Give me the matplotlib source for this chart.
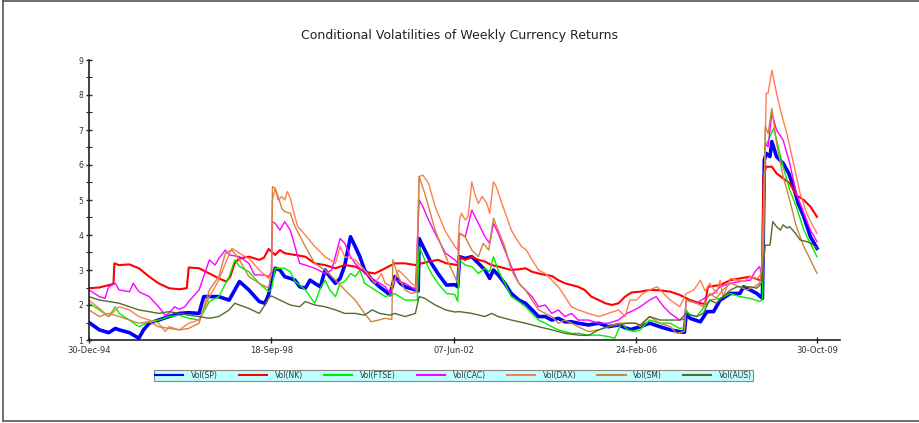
import numpy as np
import pandas as pd
import matplotlib
matplotlib.use("Agg")
import matplotlib.pyplot as plt
from matplotlib.lines import Line2D
from matplotlib.ticker import MultipleLocator

# ---- data: (week since 30-Dec-94, conditional volatility) ----
SP = [(0,1.50),(11,1.29),(21,1.21),(28,1.33),(32,1.29),(43,1.21),(53,1.05),(58,1.29),(64,1.48),(74,1.57),
      (85,1.67),(96,1.76),(106,1.78),(117,1.76),(122,2.24),(128,2.24),(138,2.24),(149,2.14),(160,2.67),(170,2.43),
      (181,2.10),(187,2.05),(191,2.30),(194,2.71),(198,3.05),(203,3.0),(208,2.81),(214,2.76),(219,2.71),(224,2.52),
      (230,2.48),(235,2.71),(240,2.62),(246,2.52),(251,3.0),(256,2.81),(262,2.62),(267,2.76),(272,3.14),(278,3.95),
      (283,3.67),(288,3.38),(293,3.0),(301,2.71),(309,2.52),(320,2.29),(325,2.81),(331,2.62),(336,2.52),(347,2.43),
      (350,2.40),(351,3.90),(357,3.57),(364,3.19),(371,2.90),(380,2.57),(389,2.58),(392,2.52),(394,3.38),(400,3.33),
      (407,3.38),(414,3.19),(421,3.0),(426,2.76),(430,3.0),(435,2.86),(442,2.62),(449,2.33),(457,2.14),(464,2.05),
      (471,1.86),(478,1.67),(485,1.67),(492,1.57),(499,1.62),(506,1.52),(513,1.52),(520,1.48),(531,1.43),(542,1.48),
      (552,1.38),(563,1.43),(570,1.35),(576,1.30),(586,1.38),(596,1.48),(607,1.38),(618,1.29),(628,1.24),(633,1.22),
      (635,1.76),(639,1.62),(650,1.52),(657,1.81),(664,1.81),(671,2.14),(682,2.33),(692,2.33),(696,2.52),(703,2.43),
      (710,2.33),(716,2.19),(718,6.14),(720,6.33),(724,6.24),(726,6.67),(731,6.24),(738,6.05),(744,5.76),(749,5.38),
      (754,4.90),(760,4.52),(767,3.95),(774,3.62)]

NK = [(0,2.48),(11,2.50),(21,2.57),(26,2.60),(27,3.19),(32,3.14),(43,3.16),(53,3.05),(64,2.81),(74,2.62),
      (85,2.48),(96,2.45),(104,2.48),(106,3.07),(117,3.05),(128,2.90),(138,2.76),(146,2.67),(150,2.80),(155,3.20),
      (160,3.33),(170,3.38),(181,3.29),(186,3.35),(191,3.60),(198,3.43),(203,3.57),(208,3.48),(219,3.43),(230,3.38),
      (240,3.19),(251,3.14),(262,3.05),(272,3.14),(283,3.10),(293,2.95),(304,2.90),(315,3.05),(325,3.19),(336,3.19),
      (347,3.14),(361,3.24),(371,3.29),(380,3.19),(392,3.14),(394,3.38),(400,3.29),(407,3.38),(414,3.29),(421,3.24),
      (428,3.14),(435,3.10),(442,3.05),(449,3.0),(457,3.02),(464,3.05),(471,2.95),(478,2.90),(485,2.86),(492,2.83),
      (499,2.71),(506,2.62),(513,2.57),(520,2.52),(527,2.43),(534,2.24),(542,2.14),(549,2.05),(556,2.0),(563,2.05),
      (570,2.24),(577,2.36),(586,2.38),(596,2.43),(607,2.42),(618,2.38),(628,2.29),(639,2.14),(650,2.05),(655,2.03),
      (658,2.52),(671,2.57),(682,2.71),(692,2.76),(703,2.81),(713,2.71),(716,2.75),(717,5.67),(720,5.95),(726,5.95),
      (731,5.76),(738,5.62),(745,5.48),(752,5.14),(760,5.0),(767,4.81),(774,4.52)]

FTSE = [(0,2.05),(11,1.86),(21,1.67),(28,1.95),(32,1.76),(43,1.57),(53,1.38),(64,1.52),(74,1.57),(85,1.67),
        (96,1.71),(106,1.62),(117,1.57),(128,2.10),(138,2.24),(149,2.81),(155,3.29),(160,3.10),(170,2.95),(181,2.62),
        (191,2.38),(194,2.45),(198,3.05),(203,3.05),(208,3.05),(214,2.95),(219,2.67),(224,2.57),(230,2.43),(235,2.24),
        (240,2.05),(246,2.48),(251,2.71),(256,2.43),(262,2.24),(267,2.62),(272,2.67),(278,2.90),(283,2.81),(288,3.0),
        (293,2.62),(304,2.43),(315,2.24),(325,2.33),(336,2.14),(349,2.14),(351,3.67),(357,3.29),(364,2.90),(371,2.62),
        (380,2.33),(389,2.30),(392,2.10),(394,3.29),(400,3.14),(407,3.10),(414,2.90),(421,3.05),(426,2.95),(430,3.38),
        (435,3.0),(442,2.62),(449,2.24),(457,2.10),(464,1.95),(471,1.76),(478,1.57),(485,1.48),(492,1.38),(499,1.29),
        (506,1.24),(513,1.19),(520,1.19),(531,1.14),(542,1.14),(552,1.10),(559,1.05),(566,1.48),(573,1.29),(580,1.24),
        (586,1.29),(596,1.57),(607,1.48),(618,1.48),(628,1.33),(633,1.35),(635,1.86),(639,1.71),(646,1.67),(660,2.14),
        (671,2.19),(682,2.33),(692,2.24),(703,2.19),(713,2.10),(716,2.15),(719,6.52),(724,6.81),(728,7.05),(731,6.71),
        (738,5.95),(745,5.29),(752,4.81),(760,4.14),(767,3.76),(774,3.38)]

CAC = [(0,2.43),(11,2.24),(17,2.19),(21,2.52),(28,2.62),(32,2.43),(43,2.38),(47,2.62),(53,2.38),(64,2.24),
       (74,1.95),(81,1.71),(85,1.76),(91,1.95),(96,1.88),(102,1.95),(106,2.10),(117,2.43),(128,3.29),(134,3.14),
       (138,3.33),(145,3.57),(149,3.43),(160,3.38),(170,3.19),(176,2.86),(181,2.86),(187,2.85),(191,2.81),(194,2.95),
       (195,4.38),(198,4.33),(203,4.14),(208,4.38),(214,4.14),(219,3.67),(224,3.19),(230,3.14),(240,3.05),(251,2.90),
       (258,3.0),(267,3.90),(272,3.76),(278,3.38),(283,3.19),(293,2.90),(304,2.71),(315,2.52),(320,2.33),(325,2.71),
       (336,2.62),(347,2.43),(351,5.0),(355,4.81),(361,4.43),(368,4.05),(379,3.48),(389,3.29),(392,3.19),(394,4.05),
       (400,3.95),(407,4.71),(414,4.33),(421,3.95),(426,3.76),(430,4.33),(435,4.05),(442,3.57),(449,3.10),(457,2.62),
       (464,2.43),(471,2.24),(478,1.95),(485,2.0),(492,1.76),(499,1.86),(506,1.67),(513,1.76),(520,1.57),(531,1.57),
       (542,1.48),(552,1.48),(563,1.57),(572,1.76),(580,1.86),(586,1.95),(596,2.14),(603,2.24),(611,1.95),(618,1.76),
       (628,1.57),(633,1.60),(635,2.14),(646,2.05),(657,2.24),(664,2.33),(671,2.52),(682,2.62),(692,2.67),(703,2.71),
       (708,2.95),(713,3.10),(716,2.80),(719,6.62),(722,6.52),(726,7.48),(731,7.0),(738,6.71),(745,6.05),(752,5.19),
       (760,4.62),(767,4.14),(774,3.81)]

DAX = [(0,2.14),(11,1.90),(21,1.67),(32,1.95),(43,1.86),(53,1.67),(64,1.57),(74,1.48),(81,1.24),(85,1.38),
       (96,1.29),(106,1.48),(117,1.57),(128,2.24),(138,2.71),(145,3.19),(152,3.62),(160,3.48),(166,3.38),(170,3.33),
       (181,3.0),(191,2.76),(194,2.85),(195,5.0),(198,5.33),(201,5.0),(205,5.10),(208,5.0),(211,5.24),(214,5.05),
       (219,4.52),(222,4.24),(230,4.0),(240,3.67),(251,3.38),(262,3.19),(267,3.67),(272,3.38),(283,3.29),(293,3.0),
       (304,2.62),(311,2.90),(315,2.62),(322,2.52),(329,3.0),(336,2.81),(343,2.62),(348,2.52),(351,5.67),(355,5.71),
       (361,5.48),(368,4.81),(379,4.10),(389,3.67),(392,3.57),(394,4.45),(396,4.62),(400,4.43),(403,4.52),(407,5.52),
       (410,5.19),(414,4.90),(418,5.10),(423,4.90),(426,4.62),(430,5.52),(433,5.38),(439,4.90),(444,4.52),(449,4.14),
       (455,3.86),(460,3.67),(465,3.57),(471,3.29),(478,3.0),(485,2.90),(492,2.71),(499,2.52),(506,2.24),(513,1.95),
       (520,1.86),(531,1.76),(542,1.67),(552,1.76),(563,1.86),(570,1.67),(575,2.14),(582,2.14),(589,2.33),(596,2.43),
       (604,2.52),(611,2.33),(618,2.14),(628,1.95),(635,2.33),(643,2.43),(650,2.71),(655,2.40),(660,2.62),(667,2.33),
       (671,2.71),(674,2.24),(682,2.76),(689,2.71),(696,2.67),(703,2.81),(710,2.75),(715,2.90),(718,5.50),(720,8.05),
       (722,8.05),(726,8.71),(731,8.05),(736,7.48),(742,6.90),(749,6.05),(756,5.19),(763,4.62),(770,4.24),(774,4.05)]

SM = [(0,1.86),(11,1.67),(21,1.76),(32,1.67),(43,1.57),(53,1.48),(64,1.52),(74,1.38),(85,1.33),(96,1.29),
      (106,1.33),(117,1.48),(128,2.43),(138,2.81),(145,3.48),(152,3.57),(160,3.29),(170,2.81),(181,2.62),(191,2.48),
      (194,2.90),(195,5.38),(198,5.33),(201,5.10),(205,4.76),(208,4.67),(214,4.62),(219,4.24),(230,3.67),(240,3.19),
      (251,3.0),(262,2.71),(272,2.43),(283,2.14),(293,1.76),(300,1.52),(308,1.57),(315,1.62),(322,1.59),(323,3.29),
      (329,2.81),(336,2.43),(343,2.33),(348,2.38),(351,5.67),(357,5.19),(368,4.14),(379,3.40),(389,2.80),(392,2.62),
      (394,4.05),(400,3.95),(407,3.57),(414,3.38),(419,3.76),(425,3.57),(430,4.48),(435,4.14),(442,3.67),(449,3.0),
      (457,2.62),(464,2.43),(471,2.14),(478,1.86),(485,1.76),(492,1.67),(499,1.48),(506,1.57),(513,1.48),(520,1.38),
      (531,1.24),(542,1.29),(552,1.38),(563,1.48),(572,1.48),(581,1.48),(586,1.38),(596,1.67),(607,1.48),(618,1.38),
      (625,1.19),(633,1.25),(635,2.14),(646,2.05),(653,1.95),(660,2.33),(667,2.20),(674,2.43),(682,2.62),(692,2.52),
      (699,2.43),(706,2.50),(713,2.62),(717,3.50),(719,7.10),(722,6.90),(726,7.62),(731,6.62),(738,5.67),(745,5.0),
      (752,4.24),(760,3.67),(767,3.29),(774,2.90)]

AUS = [(0,2.24),(11,2.14),(21,2.10),(32,2.05),(43,1.95),(53,1.86),(64,1.81),(74,1.76),(85,1.81),(96,1.76),
       (106,1.71),(117,1.67),(128,1.62),(138,1.67),(149,1.86),(155,2.05),(160,2.0),(170,1.90),(181,1.76),(187,2.0),
       (191,2.20),(194,2.26),(203,2.14),(214,2.0),(224,1.95),(230,2.10),(240,2.0),(251,1.95),(262,1.86),(272,1.76),
       (283,1.76),(293,1.71),(301,1.86),(309,1.76),(320,1.71),(325,1.76),(336,1.67),(347,1.76),(351,2.24),(357,2.19),
       (368,2.0),(379,1.86),(389,1.80),(394,1.81),(407,1.76),(421,1.67),(428,1.76),(435,1.67),(449,1.57),(464,1.48),
       (478,1.38),(492,1.29),(506,1.19),(520,1.14),(531,1.13),(542,1.29),(552,1.38),(563,1.43),(572,1.48),(581,1.48),
       (586,1.43),(596,1.67),(607,1.57),(618,1.57),(628,1.57),(635,1.76),(646,1.67),(653,1.76),(660,2.14),(667,2.05),
       (674,2.24),(682,2.43),(689,2.52),(696,2.52),(703,2.52),(710,2.48),(715,2.62),(719,3.71),(724,3.71),(727,4.38),
       (731,4.24),(735,4.14),(738,4.29),(742,4.20),(745,4.24),(751,4.05),(756,3.86),(763,3.81),(768,3.76),(774,3.62)]

SERIES_NAMES = ["Vol(SP)", "Vol(NK)", "Vol(FTSE)", "Vol(CAC)", "Vol(DAX)", "Vol(SM)", "Vol(AUS)"]
TICK_LABELS = ["30-Dec-94", "18-Sep-98", "07-Jun-02", "24-Feb-06", "30-Oct-09"]
START = "30-Dec-94"
TITLE = "Conditional Volatilities of Weekly Currency Returns"

# ---- styles ----
colors = ["#0000ff", "#ff0000", "#00ee00", "#ff00ff", "#ff7f50", "#cd853f", "#556b2f"]
widths = [2.6, 1.5, 1.0, 1.0, 1.0, 1.0, 1.0]

W, H = 920, 423
fig = plt.figure(figsize=(W / 100, H / 100), dpi=100)
fig.patch.set_facecolor("white")
ax = fig.add_axes([89 / W, 83 / H, 751 / W, 280 / H])

start = pd.to_datetime(START, format="%d-%b-%y")
tick_pos = [(pd.to_datetime(t, format="%d-%b-%y") - start).days / 7.0 for t in TICK_LABELS]

lines = []
for data, name, c, lw in zip([SP, NK, FTSE, CAC, DAX, SM, AUS], SERIES_NAMES, colors, widths):
    wk = [p[0] for p in data]
    val = [p[1] for p in data]
    ln, = ax.plot(wk, val, color=c, lw=lw, label=name, solid_joinstyle="round")
    lines.append(ln)

ax.set_xlim(0, tick_pos[-1] * 751 / 728)
ax.set_ylim(1, 9)
ax.set_xticks(tick_pos)
ax.set_xticklabels(TICK_LABELS)
ax.yaxis.set_major_locator(MultipleLocator(1))
ax.yaxis.set_minor_locator(MultipleLocator(0.5))

for s in ["top", "right"]:
    ax.spines[s].set_visible(False)
for s in ["left", "bottom"]:
    ax.spines[s].set_linewidth(1.2)
    ax.spines[s].set_color("#222222")

ax.tick_params(axis="y", which="major", direction="inout", length=5, width=1.0,
               labelsize=5.5, labelcolor="#333333", pad=1.5, color="#222222")
ax.tick_params(axis="y", which="minor", direction="inout", length=4, width=0.8, color="#222222")
ax.tick_params(axis="x", which="major", direction="inout", length=5, width=1.0,
               labelsize=6, labelcolor="#333333", pad=2, color="#222222")

fig.text(0.5, 1 - 35.5 / H, TITLE, ha="center", va="center", fontsize=9.0, color="#222222")

leg = fig.legend(handles=lines, labels=SERIES_NAMES, loc="center", ncol=7,
                 bbox_to_anchor=(453.5 / W, 1 - 375.5 / H), bbox_transform=fig.transFigure,
                 fontsize=5.5, handlelength=3.7, handletextpad=1.0, columnspacing=2.75,
                 borderpad=0.12, borderaxespad=0, frameon=True, fancybox=False,
                 facecolor="#c0ffff", edgecolor="#888888", framealpha=1.0)
leg.get_frame().set_linewidth(0.8)
for t in leg.get_texts():
    t.set_color("#333333")
for h in leg.get_lines():
    h.set_linewidth(1.5)

# outer frame: left, top and bottom edges only
frame_kw = dict(transform=fig.transFigure, color="#555555", linewidth=1.2)
fig.add_artist(Line2D([3.5 / W, 3.5 / W], [1 - 1 / H, 1 - 420.5 / H], **frame_kw))
fig.add_artist(Line2D([3.5 / W, 1.0], [1 - 1 / H, 1 - 1 / H], **frame_kw))
fig.add_artist(Line2D([3.5 / W, 1.0], [1 - 420.5 / H, 1 - 420.5 / H], **frame_kw))

fig.savefig("out.png", dpi=100)
